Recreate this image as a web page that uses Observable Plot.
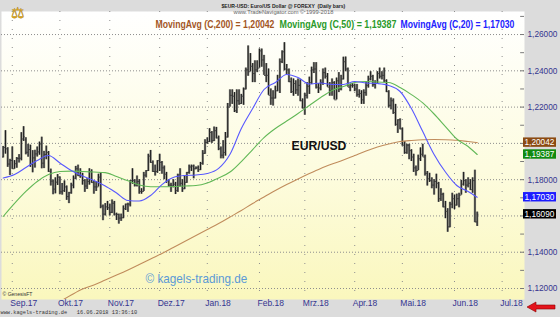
<!DOCTYPE html>
<html>
<head>
<meta charset="utf-8">
<script src="https://cdn.jsdelivr.net/npm/d3@7"></script>
<script src="https://cdn.jsdelivr.net/npm/@observablehq/plot@0.6"></script>
<style>
  html, body { margin: 0; padding: 0; background: #dcdcdc; }
  #chart svg { display: block; }
</style>
</head>
<body>
<div id="chart"></div>
<script>
// EUR/USD daily bars, 28 Aug 2017 – 15 Jun 2018 (one entry per trading day)
const opens = [
  1.1925, 1.1977, 1.1970, 1.1886,
  1.1906, 1.1860, 1.1888, 1.1917, 1.1918, 1.2024, 1.2020, 1.1951, 1.1966, 1.1885, 1.1920, 1.1942, 1.1953, 1.1997, 1.1891, 1.1939, 1.1950, 1.1846, 1.1792, 1.1748, 1.1786,
  1.1814, 1.1733, 1.1739, 1.1760, 1.1707, 1.1728, 1.1770, 1.1808, 1.1860, 1.1822, 1.1822, 1.1795, 1.1765, 1.1790, 1.1845, 1.1784, 1.1760, 1.1760, 1.1814, 1.1654, 1.1610, 1.1650,
  1.1645, 1.1620, 1.1670, 1.1610, 1.1608, 1.1588, 1.1590, 1.1640, 1.1665, 1.1665, 1.1795, 1.1795, 1.1770, 1.1790, 1.1735, 1.1735, 1.1825, 1.1850, 1.1930, 1.1895, 1.1845, 1.1845,
  1.1905, 1.1895, 1.1865, 1.1830, 1.1795, 1.1770, 1.1765, 1.1775, 1.1740, 1.1825, 1.1780, 1.1750, 1.1785, 1.1840, 1.1870, 1.1875, 1.1860, 1.1865, 1.1855, 1.1890, 1.1945,
  1.2005, 1.2010, 1.2060, 1.2015, 1.2070, 1.2030, 1.1970, 1.1935, 1.1950, 1.2035, 1.2200, 1.2265, 1.2260, 1.2180, 1.2235, 1.2220, 1.2260, 1.2300, 1.2405, 1.2395, 1.2425, 1.2385, 1.2405,
  1.2415, 1.2510, 1.2460, 1.2375, 1.2375, 1.2265, 1.2250, 1.2250, 1.2290, 1.2350, 1.2450, 1.2505, 1.2410, 1.2405, 1.2340, 1.2285, 1.2330, 1.2295, 1.2320, 1.2235,
  1.2195, 1.2265, 1.2315, 1.2335, 1.2405, 1.2410, 1.2310, 1.2305, 1.2335, 1.2390, 1.2370, 1.2310, 1.2290, 1.2335, 1.2240, 1.2345, 1.2300, 1.2355, 1.2450, 1.2410, 1.2310, 1.2320,
  1.2320, 1.2300, 1.2270, 1.2275, 1.2240, 1.2280, 1.2320, 1.2355, 1.2370, 1.2325, 1.2330, 1.2385, 1.2370, 1.2375, 1.2345, 1.2285, 1.2210, 1.2235, 1.2170, 1.2105, 1.2130,
  1.2080, 1.1990, 1.1950, 1.1990, 1.1960, 1.1925, 1.1865, 1.1850, 1.1915, 1.1940, 1.1925, 1.1835, 1.1805, 1.1795, 1.1770, 1.1790, 1.1780, 1.1695, 1.1720, 1.1650, 1.1625, 1.1540, 1.1665,
  1.1695, 1.1660, 1.1695, 1.1715, 1.1775, 1.1795, 1.1770, 1.1780, 1.1745, 1.1795, 1.1567
];
const highs = [
  1.1983, 1.2070, 1.1976, 1.1912,
  1.1980, 1.1905, 1.1922, 1.1938, 1.2059, 1.2092, 1.2031, 1.1995, 1.1990, 1.1960, 1.1962, 1.1980, 1.2007, 1.2034, 1.1956, 1.1985, 1.1955, 1.1858, 1.1798, 1.1810, 1.1828,
  1.1815, 1.1779, 1.1793, 1.1765, 1.1730, 1.1780, 1.1820, 1.1873, 1.1880, 1.1860, 1.1835, 1.1800, 1.1805, 1.1860, 1.1854, 1.1790, 1.1790, 1.1830, 1.1837, 1.1660, 1.1668, 1.1680,
  1.1665, 1.1688, 1.1680, 1.1615, 1.1610, 1.1610, 1.1655, 1.1665, 1.1670, 1.1795, 1.1860, 1.1800, 1.1820, 1.1800, 1.1750, 1.1840, 1.1850, 1.1940, 1.1961, 1.1903, 1.1880, 1.1905,
  1.1940, 1.1900, 1.1875, 1.1840, 1.1800, 1.1780, 1.1800, 1.1785, 1.1830, 1.1860, 1.1800, 1.1820, 1.1840, 1.1880, 1.1880, 1.1880, 1.1870, 1.1875, 1.1895, 1.1960, 1.2020,
  1.2030, 1.2081, 1.2065, 1.2090, 1.2088, 1.2040, 1.1980, 1.2015, 1.2060, 1.2220, 1.2295, 1.2295, 1.2280, 1.2295, 1.2295, 1.2270, 1.2305, 1.2415, 1.2537, 1.2495, 1.2440, 1.2455, 1.2455,
  1.2520, 1.2520, 1.2485, 1.2440, 1.2410, 1.2300, 1.2290, 1.2315, 1.2375, 1.2465, 1.2510, 1.2555, 1.2435, 1.2410, 1.2360, 1.2355, 1.2345, 1.2355, 1.2350, 1.2245,
  1.2275, 1.2335, 1.2365, 1.2420, 1.2445, 1.2445, 1.2330, 1.2350, 1.2410, 1.2415, 1.2385, 1.2335, 1.2355, 1.2340, 1.2360, 1.2390, 1.2375, 1.2475, 1.2476, 1.2415, 1.2325, 1.2330,
  1.2325, 1.2325, 1.2295, 1.2290, 1.2295, 1.2340, 1.2370, 1.2395, 1.2375, 1.2345, 1.2395, 1.2415, 1.2395, 1.2415, 1.2350, 1.2290, 1.2250, 1.2245, 1.2215, 1.2130, 1.2135,
  1.2085, 1.2010, 1.1995, 1.1995, 1.1965, 1.1940, 1.1875, 1.1935, 1.1975, 1.1995, 1.1935, 1.1845, 1.1835, 1.1810, 1.1800, 1.1830, 1.1785, 1.1750, 1.1725, 1.1680, 1.1640, 1.1675, 1.1725,
  1.1715, 1.1720, 1.1725, 1.1796, 1.1840, 1.1800, 1.1810, 1.1800, 1.1810, 1.1852, 1.1621
];
const lows = [
  1.1920, 1.1941, 1.1868, 1.1823,
  1.1857, 1.1858, 1.1863, 1.1892, 1.1904, 1.2011, 1.1937, 1.1924, 1.1868, 1.1838, 1.1864, 1.1925, 1.1935, 1.1860, 1.1861, 1.1910, 1.1840, 1.1765, 1.1717, 1.1722, 1.1768,
  1.1717, 1.1715, 1.1730, 1.1686, 1.1668, 1.1720, 1.1750, 1.1800, 1.1817, 1.1808, 1.1770, 1.1730, 1.1746, 1.1770, 1.1780, 1.1720, 1.1735, 1.1760, 1.1640, 1.1574, 1.1600, 1.1630,
  1.1600, 1.1613, 1.1600, 1.1575, 1.1555, 1.1570, 1.1585, 1.1630, 1.1620, 1.1650, 1.1775, 1.1760, 1.1760, 1.1720, 1.1720, 1.1735, 1.1810, 1.1845, 1.1890, 1.1840, 1.1820, 1.1835,
  1.1845, 1.1830, 1.1800, 1.1780, 1.1760, 1.1730, 1.1755, 1.1718, 1.1730, 1.1760, 1.1730, 1.1745, 1.1780, 1.1830, 1.1845, 1.1805, 1.1855, 1.1840, 1.1850, 1.1880, 1.1940,
  1.1995, 1.2005, 1.2000, 1.2010, 1.2025, 1.1960, 1.1915, 1.1915, 1.1930, 1.2030, 1.2200, 1.2215, 1.2170, 1.2165, 1.2210, 1.2215, 1.2210, 1.2295, 1.2370, 1.2395, 1.2335, 1.2335, 1.2390,
  1.2415, 1.2420, 1.2375, 1.2335, 1.2265, 1.2210, 1.2206, 1.2245, 1.2285, 1.2275, 1.2440, 1.2400, 1.2380, 1.2335, 1.2275, 1.2260, 1.2270, 1.2260, 1.2230, 1.2190,
  1.2155, 1.2245, 1.2270, 1.2325, 1.2385, 1.2300, 1.2275, 1.2290, 1.2320, 1.2355, 1.2310, 1.2260, 1.2260, 1.2240, 1.2240, 1.2280, 1.2290, 1.2350, 1.2395, 1.2310, 1.2285, 1.2305,
  1.2285, 1.2255, 1.2250, 1.2215, 1.2215, 1.2260, 1.2305, 1.2345, 1.2310, 1.2300, 1.2325, 1.2355, 1.2350, 1.2335, 1.2280, 1.2195, 1.2185, 1.2160, 1.2095, 1.2055, 1.2075,
  1.1985, 1.1940, 1.1940, 1.1910, 1.1900, 1.1840, 1.1820, 1.1850, 1.1900, 1.1925, 1.1820, 1.1765, 1.1785, 1.1750, 1.1715, 1.1750, 1.1675, 1.1680, 1.1645, 1.1585, 1.1510, 1.1535, 1.1640,
  1.1635, 1.1655, 1.1645, 1.1715, 1.1765, 1.1725, 1.1755, 1.1740, 1.1725, 1.1563, 1.1542
];
const closes = [
  1.1977, 1.1970, 1.1886, 1.1906,
  1.1860, 1.1888, 1.1917, 1.1918, 1.2024, 1.2036, 1.1951, 1.1966, 1.1885, 1.1920, 1.1942, 1.1953, 1.1997, 1.1891, 1.1939, 1.1950, 1.1846, 1.1792, 1.1748, 1.1786, 1.1814,
  1.1733, 1.1739, 1.1760, 1.1707, 1.1728, 1.1770, 1.1808, 1.1860, 1.1822, 1.1822, 1.1795, 1.1765, 1.1790, 1.1845, 1.1784, 1.1760, 1.1760, 1.1814, 1.1654, 1.1610, 1.1650, 1.1645,
  1.1620, 1.1670, 1.1610, 1.1608, 1.1588, 1.1590, 1.1640, 1.1665, 1.1665, 1.1795, 1.1795, 1.1770, 1.1790, 1.1735, 1.1735, 1.1825, 1.1850, 1.1930, 1.1895, 1.1845, 1.1845, 1.1905,
  1.1895, 1.1865, 1.1830, 1.1795, 1.1770, 1.1765, 1.1775, 1.1740, 1.1825, 1.1780, 1.1750, 1.1785, 1.1840, 1.1870, 1.1875, 1.1860, 1.1865, 1.1855, 1.1890, 1.1945, 1.2005,
  1.2010, 1.2060, 1.2015, 1.2070, 1.2030, 1.1970, 1.1935, 1.1950, 1.2035, 1.2200, 1.2265, 1.2260, 1.2180, 1.2235, 1.2220, 1.2260, 1.2300, 1.2405, 1.2395, 1.2425, 1.2385, 1.2405, 1.2415,
  1.2510, 1.2460, 1.2375, 1.2375, 1.2265, 1.2250, 1.2250, 1.2290, 1.2350, 1.2450, 1.2505, 1.2410, 1.2405, 1.2340, 1.2285, 1.2330, 1.2295, 1.2320, 1.2235, 1.2195,
  1.2265, 1.2315, 1.2335, 1.2405, 1.2410, 1.2310, 1.2305, 1.2335, 1.2390, 1.2370, 1.2310, 1.2290, 1.2335, 1.2240, 1.2345, 1.2300, 1.2355, 1.2450, 1.2410, 1.2310, 1.2320, 1.2320,
  1.2300, 1.2270, 1.2275, 1.2240, 1.2280, 1.2320, 1.2355, 1.2370, 1.2325, 1.2330, 1.2385, 1.2370, 1.2375, 1.2345, 1.2285, 1.2210, 1.2235, 1.2170, 1.2105, 1.2130, 1.2080,
  1.1990, 1.1950, 1.1990, 1.1960, 1.1925, 1.1865, 1.1850, 1.1915, 1.1940, 1.1925, 1.1835, 1.1805, 1.1795, 1.1770, 1.1790, 1.1780, 1.1695, 1.1720, 1.1650, 1.1625, 1.1540, 1.1665, 1.1695,
  1.1660, 1.1695, 1.1715, 1.1775, 1.1795, 1.1770, 1.1780, 1.1745, 1.1795, 1.1567, 1.1609
];

// Moving averages of the close, sampled every fifth trading day (index into the bars)
const maIdx = [0, 5, 10, 15, 20, 25, 30, 35, 40, 45, 50, 55, 60, 65, 70, 75, 80, 85, 90, 95, 100,
  105, 110, 115, 120, 125, 130, 135, 140, 145, 150, 155, 160, 165, 170, 175, 180, 185, 190, 195, 200, 205, 209];
const ma20 = [1.1809, 1.1828, 1.1867, 1.1906, 1.1933, 1.1892, 1.1850, 1.1820, 1.1795, 1.1765, 1.1726,
  1.1685, 1.1682, 1.1713, 1.1773, 1.1812, 1.1823, 1.1826, 1.1834, 1.1862, 1.1940, 1.2082, 1.2192,
  1.2297, 1.2336, 1.2380, 1.2363, 1.2327, 1.2333, 1.2325, 1.2325, 1.2341, 1.2333, 1.2330, 1.2319,
  1.2286, 1.2192, 1.2065, 1.1939, 1.1842, 1.1768, 1.1735, 1.17030];
const ma50 = [1.1597, 1.1669, 1.1735, 1.1790, 1.1828, 1.1845, 1.1847, 1.1845, 1.1842, 1.1839, 1.1817,
  1.1794, 1.1771, 1.1761, 1.1761, 1.1762, 1.1765, 1.1768, 1.1782, 1.1809, 1.1842, 1.1900, 1.1966,
  1.2032, 1.2082, 1.2123, 1.2165, 1.2209, 1.2253, 1.2292, 1.2314, 1.2336, 1.2341, 1.2338, 1.2336,
  1.2308, 1.2269, 1.2223, 1.2162, 1.2093, 1.2024, 1.1983, 1.19387];
const ma200Idx = [25, 30, 35, 40, 45, 50, 55, 60, 65, 70, 75, 80, 85, 90, 95, 100, 105, 110, 115, 120,
  125, 130, 135, 140, 145, 150, 155, 160, 165, 170, 175, 180, 185, 190, 195, 200, 205, 209];
const ma200 = [1.1128, 1.1164, 1.1197, 1.1219, 1.1247, 1.1274, 1.1302, 1.1332, 1.1363, 1.1393, 1.1426,
  1.1459, 1.1492, 1.1525, 1.1558, 1.1594, 1.1630, 1.1669, 1.1704, 1.1740, 1.1773, 1.1804, 1.1834,
  1.1862, 1.1886, 1.1908, 1.1933, 1.1958, 1.1980, 1.1997, 1.2010, 1.2016, 1.2020, 1.2021, 1.2020,
  1.2017, 1.2010, 1.20042];

// Axis ticks
const monthLabels = ["Sep.17", "Okt.17", "Nov.17", "Dez.17", "Jan.18", "Feb.18", "Mrz.18", "Apr.18", "Mai.18", "Jun.18", "Jul.18"];
const monthStartIdx = [4, 25, 47, 69, 90, 113, 133, 155, 176, 199, 220];
const gridLevels = [1.12, 1.14, 1.16, 1.18, 1.20, 1.22, 1.24, 1.26];
const priceLabels = [1.12, 1.14, 1.18, 1.22, 1.24, 1.26];
const priceTicks = [1.12, 1.13, 1.14, 1.15, 1.16, 1.17, 1.18, 1.19, 1.20, 1.21, 1.22, 1.23, 1.24, 1.25, 1.26, 1.27];

const fmt5 = v => v.toFixed(5).replace(".", ",");

const bars = closes.map((c, i) => ({i, open: opens[i], high: highs[i], low: lows[i], close: c}));
const series = (idx, vals) => idx.map((i, k) => ({i, v: vals[k]}));
const months = monthStartIdx.map((i, k) => ({i, label: monthLabels[k]}));

const xDomain = [-0.75, 229.86];
const yDomain = [1.11394, 1.2727];

const c200 = "#c08c5c", c50 = "#62b857", c20 = "#5858ff";
const axisInk = "#35358f";

const chart = Plot.plot({
  width: 560,
  height: 317,
  marginTop: 11,
  marginRight: 36,
  marginBottom: 18,
  marginLeft: 1,
  style: {background: "transparent", fontFamily: "'Liberation Sans', Arial, sans-serif", overflow: "visible"},
  x: {domain: xDomain, axis: null},
  y: {domain: yDomain, axis: null},
  marks: [
    Plot.frame({fill: "url(#plotBg)", stroke: "none"}),
    // dotted grid
    Plot.ruleY(gridLevels, {stroke: "#8e8e8e", strokeDasharray: "1,2", strokeWidth: 1}),
    Plot.ruleX(monthStartIdx, {stroke: "#8e8e8e", strokeDasharray: "1,8", strokeWidth: 1}),
    // price tick marks along the right edge
    Plot.ruleY(priceTicks, {x1: xDomain[1] - 1.7, x2: xDomain[1], stroke: "#7a7a7a"}),
    // OHLC bars
    Plot.ruleX(bars, {x: "i", y1: "low", y2: "high", stroke: "#8d8d86", strokeWidth: 2.3}),
    Plot.ruleX(bars, {x: "i", y1: "low", y2: "high", stroke: "#1c1c1c", strokeWidth: 1}),
    Plot.link(bars, {x1: d => d.i - 0.5, x2: "i", y1: "open", y2: "open", stroke: "#3a3a3a"}),
    Plot.link(bars, {x1: "i", x2: d => d.i + 0.5, y1: "close", y2: "close", stroke: "#3a3a3a"}),
    // moving averages
    Plot.line(series(ma200Idx, ma200), {x: "i", y: "v", stroke: c200, strokeWidth: 1.1, curve: "monotone-x", clip: true}),
    Plot.line(series(maIdx, ma50), {x: "i", y: "v", stroke: c50, strokeWidth: 1.1, curve: "monotone-x", clip: true}),
    Plot.line(series(maIdx, ma20), {x: "i", y: "v", stroke: c20, strokeWidth: 1.1, curve: "monotone-x", clip: true}),
    // price axis labels
    Plot.text(priceLabels, {y: d => d, text: fmt5, frameAnchor: "right", dx: 3, textAnchor: "start",
      fill: axisInk, fontSize: 9, ariaDescription: "price-labels"}),
    // month labels
    Plot.text(months, {x: "i", text: "label", frameAnchor: "bottom", dx: -2, dy: 6, textAnchor: "start",
      fill: axisInk, fontSize: 8.5, ariaDescription: "month-labels"}),
    // legend
    Plot.text([`MovingAvg (C,200) = ${fmt5(ma200.at(-1))}`], {frameAnchor: "top-left", dx: 154, dy: 9,
      textAnchor: "start", fill: "#a3561f", fontSize: 10.5, fontWeight: "bold", ariaDescription: "leg200"}),
    Plot.text([`MovingAvg (C,50) = ${fmt5(ma50.at(-1))}`], {frameAnchor: "top-left", dx: 278, dy: 9,
      textAnchor: "start", fill: "#2a9a2a", fontSize: 10.5, fontWeight: "bold", ariaDescription: "leg50"}),
    Plot.text([`MovingAvg (C,20) = ${fmt5(ma20.at(-1))}`], {frameAnchor: "top-left", dx: 399, dy: 9,
      textAnchor: "start", fill: "#2222ff", fontSize: 10.5, fontWeight: "bold", ariaDescription: "leg20"}),
    // instrument name
    Plot.text(["EUR/USD"], {frameAnchor: "top-left", dx: 290, dy: 129, textAnchor: "start",
      fill: "#111", fontSize: 13.5, fontWeight: "bold", ariaDescription: "symbol"}),
    // watermark and credits
    Plot.text(["© kagels-trading.de"], {frameAnchor: "bottom-left", dx: 144, dy: -17, textAnchor: "start",
      fill: "#5b9ad6", fontSize: 12, ariaDescription: "watermark"}),
    Plot.text(["© GenesisFT"], {frameAnchor: "bottom-left", dx: 1, dy: -4, textAnchor: "start",
      fill: "#333", fontSize: 5, ariaDescription: "genesis"}),
    Plot.text(["www.kagels-trading.de   16.06.2018 13:36:10"], {frameAnchor: "bottom-left", dx: -1, dy: 14,
      textAnchor: "start", fill: "#333", fontSize: 5.5, fontFamily: "'Liberation Mono', monospace", ariaDescription: "footer"}),
    // header
    Plot.text(["$EUR-USD: Euro/US Dollar @ FOREXY  (Daily bars)"], {frameAnchor: "top-left", dx: 220, dy: -7,
      textAnchor: "start", fill: "#222", fontSize: 5.5, fontWeight: "bold", ariaDescription: "title"}),
    Plot.text(["www.TradeNavigator.com © 1999-2018"], {frameAnchor: "top-left", dx: 232, dy: -1.5,
      textAnchor: "start", fill: "#666", fontSize: 5.5, ariaDescription: "subtitle"}),
    Plot.text(["⚖"], {frameAnchor: "top-left", dx: 9, dy: -4, fill: "#d6a21c", stroke: "#8a6a10", strokeWidth: 0.4,
      fontSize: 15, ariaDescription: "logo"})
  ]
});

document.getElementById("chart").appendChild(chart);

const svg = d3.select(chart);

// plot background: white fading to pale yellow
const grad = svg.insert("defs", ":first-child").append("linearGradient")
  .attr("id", "plotBg").attr("x1", 0).attr("y1", 0).attr("x2", 0).attr("y2", 1);
grad.append("stop").attr("offset", "0%").attr("stop-color", "#ffffff");
grad.append("stop").attr("offset", "55%").attr("stop-color", "#fdfcdf");
grad.append("stop").attr("offset", "100%").attr("stop-color", "#faf7bd");

// squeeze text horizontally to a given width
function fitWidth(desc, target) {
  svg.selectAll(`g[aria-description="${desc}"] text`).each(function () {
    const w = this.getComputedTextLength();
    if (!w) return;
    const t = this.getAttribute("transform") || "";
    this.setAttribute("transform", `${t} scale(${target / w},1)`);
  });
}
fitWidth("price-labels", 30);
fitWidth("leg200", 119);
fitWidth("leg50", 117);
fitWidth("leg20", 114);
fitWidth("symbol", 55);
fitWidth("watermark", 102);
fitWidth("genesis", 30);
fitWidth("footer", 137);
fitWidth("title", 124);
fitWidth("subtitle", 100);

// current values boxed on the price axis
const y = chart.scale("y");
const boxes = [
  {v: ma200.at(-1), fill: "#8b4a12"},
  {v: ma50.at(-1), fill: "#108a10"},
  {v: ma20.at(-1), fill: "#1c1cff"},
  {v: closes.at(-1), fill: "#000000"}
];
const gb = svg.append("g").attr("text-anchor", "start")
  .attr("font-family", "'Liberation Sans', Arial, sans-serif");
for (const b of boxes) {
  const py = y.apply(b.v);
  gb.append("rect").attr("x", 523).attr("y", py - 4.7).attr("width", 33).attr("height", 9.4).attr("fill", b.fill);
  const t = gb.append("text").attr("text-anchor", "start")
    .attr("transform", `translate(524.5,${py})`).attr("dy", "0.34em")
    .attr("fill", "#fff").attr("font-size", 9).text(fmt5(b.v));
  const w = t.node().getComputedTextLength();
  t.attr("transform", `translate(524.5,${py}) scale(${30 / w},1)`);
}

// red arrow in the lower right corner
svg.append("path")
  .attr("d", "M527,307 L536,302 L536,305 L555,305 L555,309 L536,309 L536,312 Z")
  .attr("fill", "#e4141b").attr("stroke", "#8a0000").attr("stroke-width", 0.6);
</script>
</body>
</html>
